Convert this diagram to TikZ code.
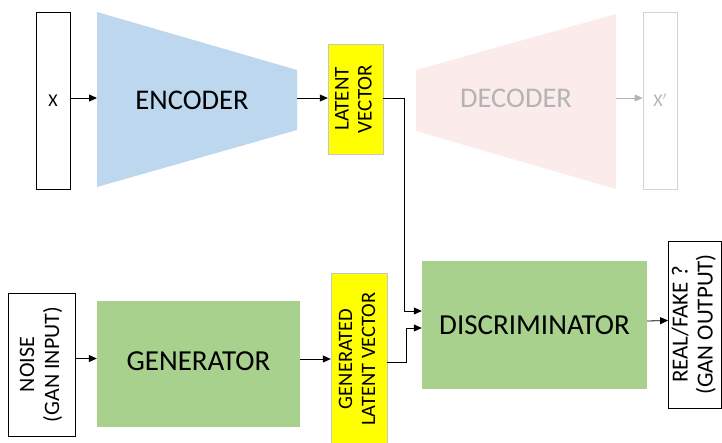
\documentclass[tikz,border=0pt]{standalone}
\usepackage{fontspec}
\setmainfont{Carlito}
\usepackage{graphicx}
\usetikzlibrary{arrows.meta, positioning}
\definecolor{encblue}{HTML}{BDD7EE}
\definecolor{decpink}{HTML}{FBEBEB}
\definecolor{netgreen}{HTML}{A9D18E}
\definecolor{vecyellow}{HTML}{FFFF00}
\definecolor{fadetext}{HTML}{B4B4B4}
\definecolor{fadeline}{HTML}{D4D4D4}
\newcommand{\vtext}[1]{\rotatebox{90}{\begin{tabular}{@{}c@{}}#1\end{tabular}}}

\begin{document}
\begin{tikzpicture}[x=1pt, y=-1pt,
  iobox/.style={draw, line width=0.8pt, inner sep=0pt},
  vecbox/.style={draw=gray!45, fill=vecyellow, inner sep=0pt},
  netbox/.style={fill=netgreen, inner sep=0pt, font=\fontsize{29}{32}\selectfont},
  arr/.style={-{Triangle[length=8pt,width=7pt]}, line width=0.8pt}]
  \useasboundingbox (0,0) rectangle (722,442);

  % autoencoder
  \node[iobox, minimum width=34pt, minimum height=177pt, font=\fontsize{18}{20}\selectfont] (xin) at (53,100.5) {X};
  \fill[encblue] (97,12) -- (297,70) -- (297,130) -- (97,187) -- cycle;
  \node[font=\fontsize{28.5}{30}\selectfont] (enc) at (192,100) {ENCODER};
  \coordinate (encw) at (97,98);
  \coordinate (ence) at (297,98);
  \node[vecbox, minimum width=55pt, minimum height=110pt, font=\fontsize{21}{23}\selectfont] (latent) at (355.5,99) {\vtext{LATENT\\VECTOR}};
  \fill[decpink] (416,70) -- (616,14) -- (616,189) -- (416,131) -- cycle;
  \node[font=\fontsize{28.5}{30}\selectfont, text=fadetext] (dec) at (516,98) {DECODER};
  \coordinate (dece) at (616,98);
  \node[iobox, draw=fadeline, minimum width=34pt, minimum height=177pt, font=\fontsize{18}{20}\selectfont, text=fadetext] (xout) at (660,100.5) {X$'$};

  % gan
  \node[iobox, minimum width=67pt, minimum height=143pt, font=\fontsize{22}{25}\selectfont] (noise) at (41.5,364.5) {\vtext{NOISE\\(GAN INPUT)}};
  \node[netbox, minimum width=203pt, minimum height=126pt] (gen) at (198.5,364) {\raisebox{5pt}{GENERATOR}};
  \node[vecbox, minimum width=56pt, minimum height=172pt, font=\fontsize{20.5}{23}\selectfont] (gvec) at (359,359) {\vtext{GENERATED\\LATENT VECTOR}};
  \node[netbox, minimum width=225pt, minimum height=128pt] (disc) at (534.5,325) {DISCRIMINATOR};
  \node[iobox, minimum width=53pt, minimum height=167pt, font=\fontsize{23}{25}\selectfont] (out) at (695,324.5) {\vtext{REAL/FAKE ?\\(GAN OUTPUT)}};

  \draw[arr] (xin.east |- encw) -- (encw);
  \draw[arr] (ence) -- (ence -| latent.west);
  \draw[arr, draw=fadetext, fill=fadetext] (dece) -- (dece -| xout.west);
  \draw[arr] ([yshift=1pt]latent.east) -- ++(21,0) |- ([yshift=14pt]disc.west);
  \draw[arr] ([yshift=6pt]noise.east) -- ([yshift=6pt]noise.east -| gen.west);
  \draw[arr] (gen.east |- gvec) -- (gvec.west);
  \draw[arr] ([yshift=-3pt]gvec.east) -- ++(19,0) |- ([yshift=-3pt]disc.west);
  \draw[arr] ([yshift=4pt]disc.east) -- ([yshift=4pt]out.west);
\end{tikzpicture}
\end{document}
